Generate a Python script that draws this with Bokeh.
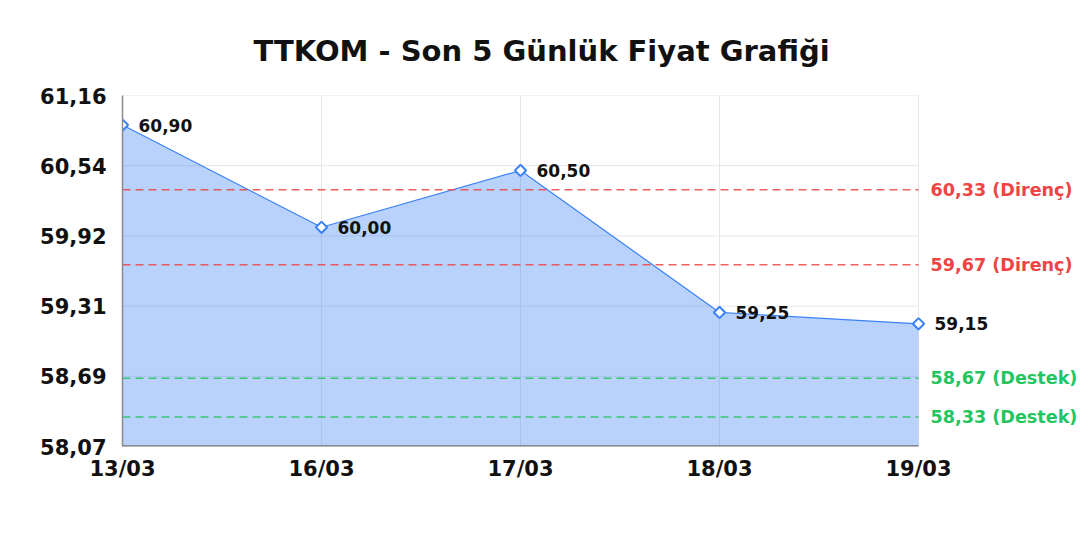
import math
from bokeh.plotting import figure
from bokeh.models import ColumnDataSource, FixedTicker, CustomJSTickFormatter, Range1d
from bokeh.core.properties import value
from bokeh.embed import file_html
from bokeh.resources import INLINE

# data
dates = ["13/03", "16/03", "17/03", "18/03", "19/03"]
prices = [60.90, 60.00, 60.50, 59.25, 59.15]
resistances = [60.33, 59.67]
supports = [58.67, 58.33]
y_ticks = [58.07, 58.688, 59.306, 59.924, 60.542, 61.16]

FONT = "DejaVu Sans"
BLUE = "#3b82f6"
RED = "#ef4444"
GREEN = "#22c55e"
GRID = "#e6e6e6"
AXIS = "#8a8a8a"

def tr(v):
    return f"{v:.2f}".replace(".", ",")

xs = list(range(len(dates)))
x0, x1 = xs[0], xs[-1]
y0, y1 = y_ticks[0], y_ticks[-1]

src = ColumnDataSource(data=dict(
    x=xs, y=prices, base=[y0] * len(xs), lbl=[tr(v) for v in prices],
))

# the frame is stretched to the right so the side labels are not clipped;
# the visible chart area ends at the last date
W, H = 1078, 520
LEFT, TOP, BOTTOM = 122, 95, 74
step_px = (W - LEFT - 160) / (len(xs) - 1)
x_end = x1 + 160 / step_px

p = figure(width=W, height=H, output_backend="svg", toolbar_location=None,
           x_range=Range1d(x0, x_end), y_range=Range1d(y0, y1),
           min_border_left=LEFT, min_border_right=0, min_border_top=TOP,
           min_border_bottom=BOTTOM, title="TTKOM - Son 5 Günlük Fiyat Grafiği")
p.outline_line_color = None

p.title.text_font = FONT
p.title.text_font_size = "29px"
p.title.text_font_style = "bold"
p.title.align = "left"
p.title.offset = 131
p.title.standoff = 56
p.title.text_color = "#111111"

# axes
p.xaxis.ticker = FixedTicker(ticks=xs)
p.xaxis.major_label_overrides = {i: d for i, d in enumerate(dates)}
p.yaxis.ticker = FixedTicker(ticks=y_ticks)
p.yaxis.formatter = CustomJSTickFormatter(code="return tick.toFixed(2).replace('.', ',');")
for ax in (p.xaxis[0], p.yaxis[0]):
    ax.major_tick_line_color = None
    ax.minor_tick_line_color = None
    ax.axis_line_color = AXIS
    ax.axis_line_width = 1.5
    ax.major_label_text_font = FONT
    ax.major_label_text_font_size = "21px"
    ax.major_label_text_font_style = "bold"
    ax.major_label_text_color = "#111111"
p.xaxis.axis_line_color = None
p.yaxis.major_label_standoff = 10
p.xaxis.major_label_standoff = 4
p.xgrid.visible = False
p.ygrid.visible = False

# grid, limited to the chart area
p.segment(x0=xs, y0=[y0] * len(xs), x1=xs, y1=[y1] * len(xs),
          line_color=GRID, line_width=1)
p.segment(x0=[x0] * len(y_ticks), y0=y_ticks, x1=[x1] * len(y_ticks), y1=y_ticks,
          line_color=GRID, line_width=1)

# area + line
p.varea(x="x", y1="base", y2="y", source=src, fill_color=BLUE, fill_alpha=0.36)
p.line(x="x", y="y", source=src, line_color=BLUE, line_width=1.2)

# bottom axis line
p.segment(x0=[x0], y0=[y0], x1=[x1], y1=[y0], line_color=AXIS, line_width=3)

# resistance / support lines
for vals, col, name in ((resistances, RED, "Direnç"), (supports, GREEN, "Destek")):
    n = len(vals)
    p.segment(x0=[x0] * n, y0=vals, x1=[x1] * n, y1=vals, line_color=col,
              line_alpha=0.85, line_width=1.5, line_dash="8 5")
    p.text(x=[x1] * n, y=vals, text=[f"{tr(v)} ({name})" for v in vals],
           x_offset=12, text_color=col, text_font=value(FONT),
           text_font_size="17.6px", text_font_style="bold", text_baseline="middle")

p.scatter(x="x", y="y", source=src, marker="square", size=8, angle=math.pi / 4,
          fill_color="white", line_color=BLUE, line_width=2)

p.text(x="x", y="y", text="lbl", source=src, x_offset=16, y_offset=0,
       text_font=value(FONT), text_font_size="17px", text_font_style="bold",
       text_color="#111111", text_baseline="middle")

open("out.html", "w").write(file_html(p, INLINE))
